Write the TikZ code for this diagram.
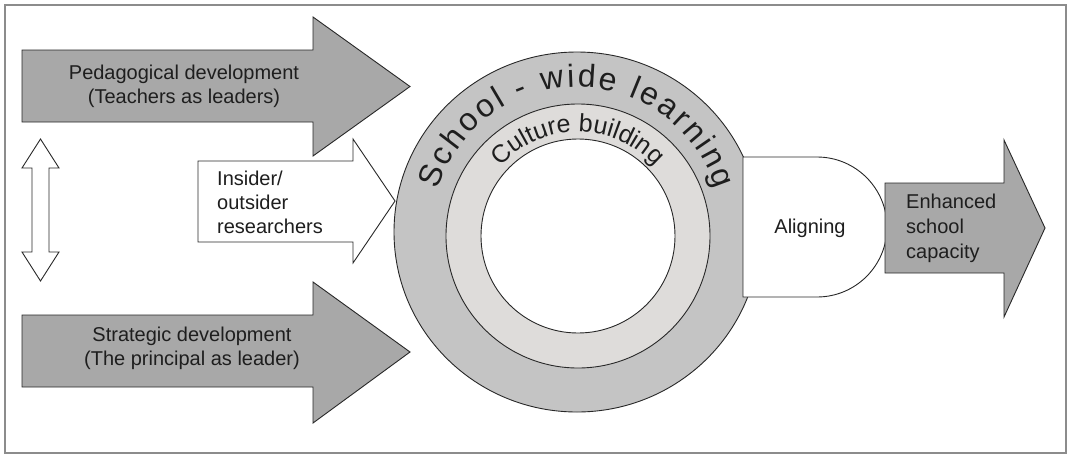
\documentclass[tikz,border=0pt]{standalone}
\usepackage{fontspec}
\setmainfont{Liberation Sans}
\usetikzlibrary{decorations.text}
\definecolor{arrowgray}{RGB}{168,168,168}
\definecolor{ringout}{RGB}{196,196,196}
\definecolor{ringmid}{RGB}{222,220,218}
\definecolor{edge}{RGB}{40,40,40}
\definecolor{txt}{RGB}{30,30,30}
\definecolor{framegray}{RGB}{140,140,140}
\begin{document}
\begin{tikzpicture}[x=1pt,y=-1pt,
  darkshape/.style={fill=arrowgray,draw=edge,line width=0.9pt,line join=miter},
  whiteshape/.style={fill=white,draw=edge,line width=0.9pt,line join=miter},
  lbl/.style={text=txt,inner sep=0pt,font=\fontsize{20}{24}\selectfont},
  ringtext/.style={decorate,decoration={text along path,text align=fit to path}}]
\fill[white] (0,0) rectangle (1072,456);
\useasboundingbox (0,0) rectangle (1072,456);
\draw[framegray,line width=1.5pt] (5,5) rectangle (1066,453);
% left arrows
\draw[darkshape] (22,50) -- (313,50) -- (313,17) -- (410,86.5) -- (313,156) -- (313,122) -- (22,122) -- cycle;
\draw[darkshape] (22,315) -- (313,315) -- (313,282) -- (410,352) -- (313,423) -- (313,387) -- (22,387) -- cycle;
\draw[whiteshape] (40.5,139) -- (59,168) -- (49,168) -- (49,252) -- (59,252) -- (40.5,281) -- (22,252) -- (32,252) -- (32,168) -- (22,168) -- cycle;
\draw[whiteshape] (198,161) -- (353,161) -- (353,139) -- (395,201) -- (353,263) -- (353,242) -- (198,242) -- cycle;
% rings
\draw[fill=ringout,draw=edge,line width=0.9pt] (577,232) ellipse [x radius=183,y radius=180];
\draw[fill=ringmid,draw=edge,line width=0.9pt] (578,236) circle [radius=132];
\draw[fill=white,draw=edge,line width=0.9pt] (578,236) circle [radius=97];
\path[ringtext,decoration={text={|\fontsize{32}{34}\selectfont\color{txt}|School - wide learning}}]
  ([shift={(197:145)}]577,232) arc [start angle=197,end angle=343,radius=145];
\path[ringtext,decoration={text={|\fontsize{25}{27}\selectfont\color{txt}|Culture building}}]
  ([shift={(222:104)}]578,236) arc [start angle=222,end angle=316,radius=104];
% aligning and output
\draw[whiteshape] (743,157) -- (817,157) arc [start angle=-90,end angle=90,radius=70] -- (743,297) -- cycle;
\draw[darkshape] (885,183) -- (1004,183) -- (1004,140) -- (1045,228) -- (1004,317) -- (1004,273) -- (885,273) -- cycle;
% labels
\node[lbl,align=center] (ped) at (184,86.5) {Pedagogical development\\(Teachers as leaders)};
\node[lbl,align=center] (str) at (192,348.5) {Strategic development\\(The principal as leader)};
\node[lbl,align=left,anchor=west] (ins) at (217,202) {Insider/\\outsider\\researchers};
\node[lbl] (ali) at (810,228) {Aligning};
\node[lbl,align=left,anchor=west,font=\fontsize{20}{25}\selectfont] (enh) at (906,228) {Enhanced\\school\\capacity};
\end{tikzpicture}
\end{document}
